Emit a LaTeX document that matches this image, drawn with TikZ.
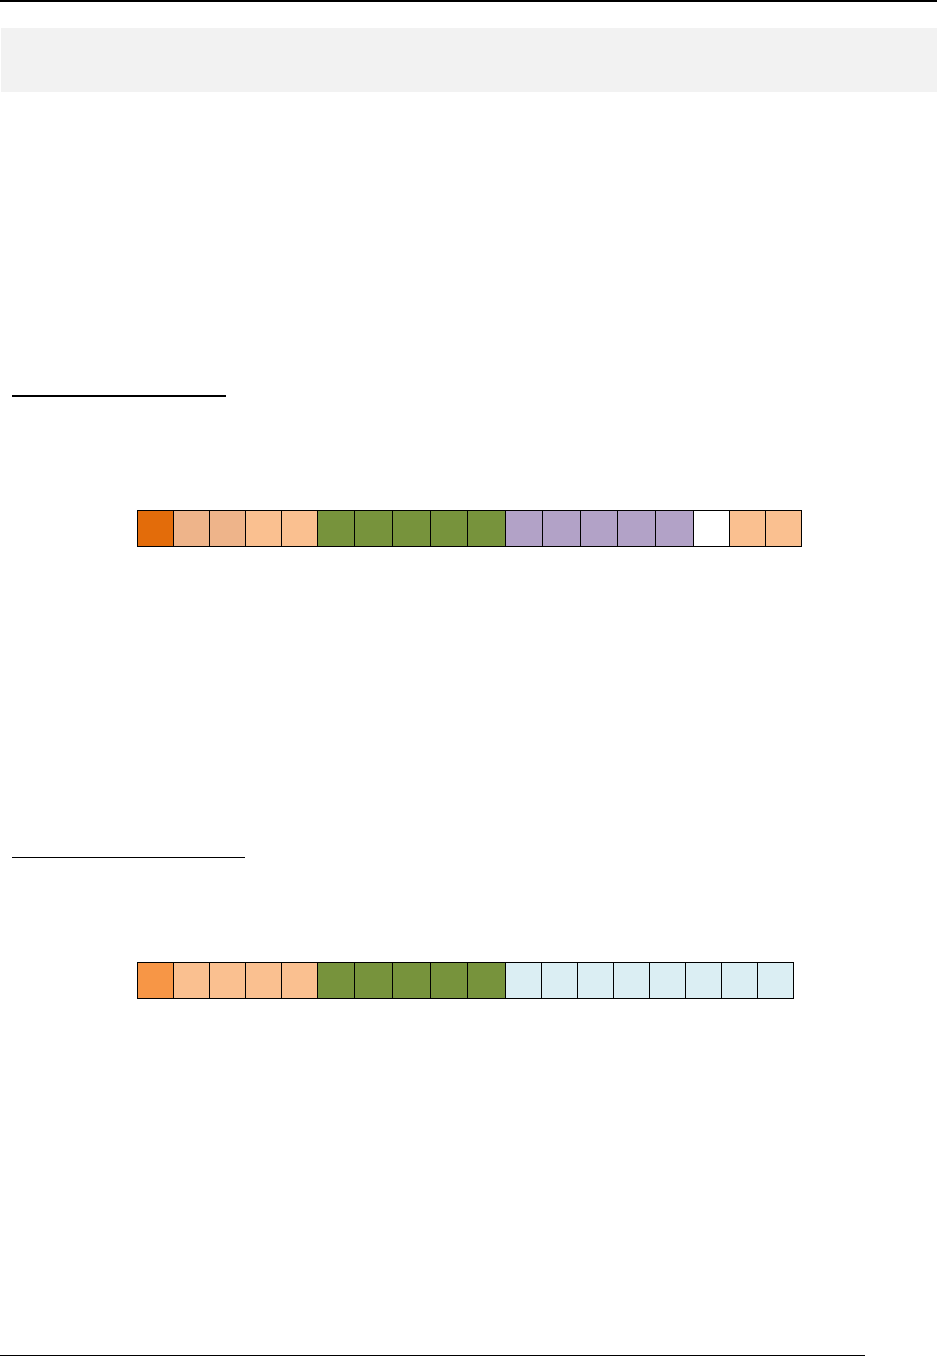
\documentclass[tikz,border=0pt]{standalone}
\definecolor{cDarkOrange}{HTML}{E36C0A}
\definecolor{cTan}{HTML}{EEB48A}
\definecolor{cPeach}{HTML}{FAC090}
\definecolor{cGreen}{HTML}{77933C}
\definecolor{cPurple}{HTML}{B2A2C7}
\definecolor{cBlue}{HTML}{DBEEF3}
\definecolor{cOrange}{HTML}{F79646}
\definecolor{cBand}{HTML}{F2F2F2}
\tikzset{
  cell/.style={draw=black, line width=0.9pt, inner sep=0pt, outer sep=0pt, anchor=north west},
  rule/.style={draw=black},
}
\begin{document}
\begin{tikzpicture}[x=1pt,y=-1pt]
\useasboundingbox (0,0) rectangle (937,1357);
% top rule and grey band
\coordinate (tl) at (0,0.8);
\coordinate (tr) at (937,0.8);
\draw[rule, line width=1.6pt] (tl) -- (tr);
\node[fill=cBand, inner sep=0pt, outer sep=0pt, anchor=north west, minimum width=936pt, minimum height=64pt] (band) at (1,28) {};
% underlines
\coordinate (u1a) at (12,396);
\coordinate (u1b) at (226,396);
\draw[rule, line width=2pt] (u1a) -- (u1b);
\coordinate (u2a) at (12,857.8);
\coordinate (u2b) at (245,857.8);
\draw[rule, line width=1pt] (u2a) -- (u2b);
% row 1
\foreach \a/\b/\c [count=\i] in {137.3/173.3/cDarkOrange,173.3/209.3/cTan,209.3/245.3/cTan,245.3/281.7/cPeach,281.7/317.3/cPeach,317.3/354.3/cGreen,354.3/392.3/cGreen,392.3/430.3/cGreen,430.3/467.7/cGreen,467.7/505.5/cGreen,505.5/542.3/cPurple,542.3/580.3/cPurple,580.3/617.3/cPurple,617.3/655.3/cPurple,655.3/693.3/cPurple,693.3/729.3/white,729.3/765.3/cPeach,765.3/801.3/cPeach}{
  \pgfmathsetmacro\w{\b-\a}
  \node[cell, fill=\c, minimum width=\w pt, minimum height=35.7pt] (ra\i) at (\a,510.3) {};
}
% row 2
\foreach \a/\b/\c [count=\i] in {137.3/173.3/cOrange,173.3/209.3/cPeach,209.3/245.3/cPeach,245.3/281.7/cPeach,281.7/317.3/cPeach,317.3/354.3/cGreen,354.3/392.3/cGreen,392.3/430.3/cGreen,430.3/467.7/cGreen,467.7/505.5/cGreen,505.5/541.3/cBlue,541.3/577.3/cBlue,577.3/613.3/cBlue,613.3/649.3/cBlue,649.3/685.3/cBlue,685.3/721.3/cBlue,721.3/757.3/cBlue,757.3/793.3/cBlue}{
  \pgfmathsetmacro\w{\b-\a}
  \node[cell, fill=\c, minimum width=\w pt, minimum height=35.7pt] (rb\i) at (\a,962.3) {};
}
% bottom rule
\coordinate (bl) at (0,1355.8);
\coordinate (br) at (865,1355.8);
\draw[rule, line width=1.2pt] (bl) -- (br);
\end{tikzpicture}
\end{document}
